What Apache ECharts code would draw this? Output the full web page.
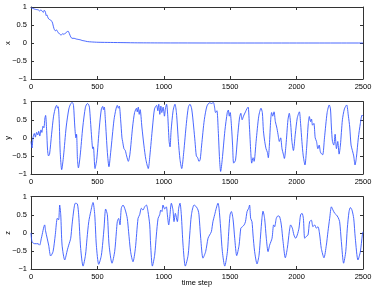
<!DOCTYPE html>
<html><head><meta charset="utf-8">
<script src="https://cdn.jsdelivr.net/npm/echarts@6/dist/echarts.min.js"></script>
<style>html,body{margin:0;padding:0;background:#fff}#c{width:374px;height:289px}</style>
</head><body><div id="c"></div>
<script>
const xTicks = [0, 500, 1000, 1500, 2000, 2500];
const yTicks = [-1, -0.5, 0, 0.5, 1];
const panelNames = ['x', 'y', 'z'];
const xAxisTitle = 'time step';

const seriesX = [[0,0.98],[15,0.96],[28,0.94],[40,0.93],[55,0.92],[65,0.89],[75,0.92],[85,0.88],[93,0.85],[100,0.91],[108,0.87],[115,0.76],[120,0.78],[126,0.72],[133,0.67],[145,0.64],[158,0.6],[166,0.5],[173,0.4],[183,0.34],[193,0.36],[203,0.3],[215,0.25],[228,0.22],[238,0.26],[248,0.24],[258,0.27],[271,0.31],[279,0.33],[289,0.26],[299,0.17],[309,0.13],[325,0.13],[341,0.11],[355,0.1],[370,0.09],[385,0.07],[400,0.06],[424,0.04],[454,0.03],[505,0.02],[600,0.015],[700,0.01],[800,0.005],[1000,0.002],[1500,0],[2000,0],[2500,0]];

const seriesY = [[0,-0.1],[8,-0.28],[15,0.0],[25,0.12],[33,0.02],[42,0.15],[50,0.08],[58,0.18],[66,0.05],[75,0.22],[82,0.15],[90,0.32],[97,0.28],[105,0.55],[110,0.62],[118,0.2],[125,-0.35],[132,-0.5],[140,-0.45],[155,0.1],[170,0.6],[185,0.85],[193,0.9],[200,0.82],[205,0.86],[212,0.5],[220,-0.4],[231,-0.88],[245,-0.5],[265,0.3],[285,0.8],[300,0.95],[311,0.98],[320,0.9],[330,0.3],[338,0.0],[343,0.1],[350,-0.6],[357,-0.83],[370,-0.5],[390,0.3],[410,0.85],[425,0.95],[432,0.93],[440,0.85],[455,0.1],[465,-0.3],[470,-0.25],[482,-0.85],[495,-0.6],[515,0.3],[530,0.8],[540,0.87],[545,0.78],[552,0.85],[560,0.5],[575,-0.4],[587,-0.8],[600,-0.4],[625,0.5],[640,0.8],[650,0.9],[658,0.82],[665,0.88],[675,0.5],[685,0.0],[690,-0.1],[700,-0.3],[710,-0.35],[720,-0.5],[733,-0.65],[745,-0.45],[765,0.3],[780,0.7],[795,0.82],[800,0.72],[808,0.85],[815,0.65],[822,0.78],[835,0.3],[850,-0.2],[865,-0.6],[883,-0.85],[895,-0.5],[915,0.3],[930,0.8],[946,0.9],[955,0.75],[962,0.93],[970,0.65],[978,0.88],[985,0.7],[995,0.85],[1005,0.6],[1012,0.8],[1021,0.93],[1030,0.6],[1040,-0.1],[1047,-0.25],[1055,0.2],[1070,0.75],[1084,0.93],[1095,0.7],[1110,-0.1],[1122,-0.6],[1135,-0.85],[1150,-0.4],[1170,0.4],[1185,0.85],[1197,0.93],[1210,0.8],[1225,0.3],[1235,-0.1],[1245,-0.5],[1255,-0.55],[1265,-0.65],[1274,-0.6],[1285,-0.2],[1305,0.5],[1325,0.88],[1345,0.97],[1360,0.95],[1373,0.98],[1380,0.9],[1390,0.7],[1400,0.75],[1410,0.2],[1420,-0.6],[1428,-0.93],[1440,-0.6],[1460,0.2],[1478,0.7],[1486,0.77],[1493,0.6],[1500,0.7],[1510,0.3],[1518,-0.2],[1526,-0.7],[1540,-0.62],[1555,0.0],[1570,0.55],[1580,0.68],[1590,0.5],[1600,0.6],[1615,0.72],[1625,0.8],[1635,0.85],[1645,0.3],[1655,-0.4],[1662,-0.7],[1672,-0.55],[1680,-0.65],[1695,-0.1],[1715,0.6],[1732,0.82],[1742,0.7],[1750,0.2],[1760,-0.1],[1770,-0.3],[1780,-0.4],[1787,-0.55],[1795,-0.2],[1805,0.5],[1812,0.7],[1820,0.6],[1830,0.72],[1840,0.45],[1850,0.3],[1860,0.1],[1870,-0.1],[1880,0.0],[1890,-0.3],[1900,-0.45],[1908,-0.57],[1920,-0.2],[1935,0.5],[1945,0.68],[1955,0.4],[1965,-0.1],[1976,-0.35],[1990,0.1],[2005,0.55],[2021,0.72],[2030,0.4],[2040,-0.1],[2050,-0.5],[2063,-0.75],[2075,-0.3],[2088,0.4],[2096,0.59],[2105,0.45],[2112,0.52],[2120,0.35],[2130,0.4],[2140,0.0],[2150,-0.1],[2160,-0.3],[2170,-0.2],[2180,-0.4],[2196,-0.47],[2210,0.0],[2230,0.7],[2246,0.91],[2255,0.8],[2262,0.3],[2270,-0.1],[2280,-0.2],[2290,0.1],[2300,-0.3],[2310,-0.1],[2320,-0.45],[2330,-0.2],[2345,0.5],[2360,0.8],[2377,0.91],[2390,0.6],[2400,0.3],[2410,-0.2],[2420,-0.35],[2430,-0.5],[2440,-0.75],[2450,-0.55],[2465,0.0],[2480,0.4],[2493,0.63],[2500,0.6]];

const seriesZ = [[0,0.0],[8,-0.25],[28,-0.3],[53,-0.3],[65,-0.34],[78,-0.15],[103,0.22],[110,0.05],[133,-0.34],[148,-0.64],[166,-0.52],[183,-0.05],[198,0.4],[208,0.36],[216,0.77],[224,0.5],[234,-0.34],[254,-0.75],[274,-0.47],[284,-0.34],[299,-0.15],[309,0.22],[324,0.68],[334,0.82],[349,0.8],[359,0.5],[374,-0.43],[392,-0.92],[410,-0.62],[422,-0.15],[435,0.31],[450,0.59],[467,0.84],[480,0.5],[492,-0.34],[510,-0.87],[530,-0.62],[550,0.13],[562,0.66],[575,0.5],[588,-0.34],[610,-0.84],[630,-0.52],[643,0.03],[650,0.31],[660,0.4],[670,0.22],[680,0.68],[693,0.77],[710,0.63],[725,0.4],[735,0.03],[750,-0.52],[768,-0.8],[786,-0.43],[806,0.4],[818,0.5],[831,0.68],[843,0.63],[856,0.72],[869,0.77],[881,0.59],[894,0.22],[901,-0.34],[914,-0.92],[931,-0.62],[944,-0.06],[957,0.4],[969,0.5],[977,0.63],[986,0.59],[994,0.77],[1007,0.66],[1019,0.72],[1027,0.5],[1037,0.22],[1044,0.4],[1057,0.82],[1069,0.63],[1077,0.31],[1087,0.54],[1102,0.31],[1112,0.68],[1122,0.82],[1132,0.5],[1145,-0.34],[1162,-0.92],[1183,-0.62],[1195,-0.06],[1208,0.5],[1228,0.77],[1245,0.72],[1258,0.63],[1265,0.5],[1278,-0.15],[1295,-0.7],[1315,-0.52],[1333,-0.15],[1345,-0.06],[1358,0.03],[1370,0.31],[1383,0.5],[1395,0.68],[1408,0.82],[1416,0.68],[1428,0.13],[1441,-0.52],[1459,-0.92],[1479,-0.52],[1489,0.03],[1499,0.5],[1509,0.59],[1522,0.36],[1534,-0.15],[1549,-0.63],[1567,-0.34],[1580,0.13],[1592,0.17],[1605,0.22],[1615,0.31],[1627,0.59],[1639,0.68],[1646,0.77],[1654,0.4],[1664,0.31],[1672,-0.06],[1684,-0.52],[1702,-0.86],[1717,-0.62],[1729,-0.06],[1739,0.4],[1747,0.6],[1759,0.4],[1772,-0.15],[1785,-0.52],[1797,-0.34],[1815,-0.15],[1827,0.22],[1835,0.17],[1847,0.4],[1860,0.47],[1872,0.45],[1885,0.22],[1898,-0.24],[1915,-0.69],[1930,-0.43],[1945,0.03],[1955,0.22],[1968,0.13],[1980,-0.06],[1993,-0.15],[2005,-0.06],[2018,0.13],[2030,0.5],[2041,0.54],[2051,0.4],[2061,-0.15],[2073,-0.1],[2086,-0.06],[2098,0.31],[2111,0.35],[2123,0.17],[2136,0.22],[2149,0.13],[2161,0.17],[2174,-0.06],[2186,-0.43],[2206,-0.69],[2224,-0.34],[2236,0.03],[2249,0.4],[2262,0.72],[2274,0.63],[2287,0.54],[2299,0.5],[2312,0.43],[2324,0.31],[2337,-0.24],[2354,-0.84],[2370,-0.52],[2382,0.13],[2395,0.59],[2405,0.7],[2417,0.63],[2430,0.4],[2442,-0.15],[2462,-0.75],[2480,-0.52],[2495,-0.06],[2500,0.03]];

const panelData = [seriesX, seriesY, seriesZ];
const FONT = 'Liberation Sans, Arial, sans-serif';
const lineColor = '#3557ff';
const axisColor = '#333';
const minus = v => String(v).replace('-', '\u2212');

const grids = [
  {left: 31, right: 11, top: 7, height: 72, outerBoundsMode: 'none', containLabel: false},
  {left: 31, right: 11, top: 101.7, height: 72.3, outerBoundsMode: 'none', containLabel: false},
  {left: 31, right: 11, top: 196.7, height: 72.3, outerBoundsMode: 'none', containLabel: false}
];

const xAxes = [], yAxes = [], series = [];
panelNames.forEach((nm, i) => {
  const xBase = {
    type: 'value', gridIndex: i, min: xTicks[0], max: xTicks[xTicks.length - 1],
    interval: xTicks[1] - xTicks[0],
    axisLine: {show: true, onZero: false, lineStyle: {color: axisColor, width: 1}},
    axisTick: {show: true, inside: true, length: 3, lineStyle: {color: axisColor}},
    splitLine: {show: false}
  };
  xAxes.push(Object.assign({}, xBase, {
    position: 'bottom',
    axisLabel: {show: true, margin: 4, fontSize: 7.5, color: '#000', fontFamily: FONT, formatter: minus},
    name: i === 2 ? xAxisTitle : '', nameLocation: 'middle', nameGap: 10, nameMoveOverlap: false,
    nameTextStyle: {fontSize: 7.5, color: '#000', fontFamily: FONT, verticalAlign: 'top'}
  }));
  xAxes.push(Object.assign({}, xBase, {position: 'top', axisLabel: {show: false}}));
  const yBase = {
    type: 'value', gridIndex: i, min: yTicks[0], max: yTicks[yTicks.length - 1],
    interval: yTicks[1] - yTicks[0],
    axisLine: {show: true, onZero: false, lineStyle: {color: axisColor, width: 1}},
    axisTick: {show: true, inside: true, length: 3, lineStyle: {color: axisColor}},
    splitLine: {show: false}
  };
  yAxes.push(Object.assign({}, yBase, {
    position: 'left',
    axisLabel: {show: true, margin: 4, fontSize: 7.5, color: '#000', fontFamily: FONT, formatter: minus},
    name: nm, nameLocation: 'middle', nameGap: 19, nameRotate: 90, nameMoveOverlap: false,
    nameTextStyle: {fontSize: 7.5, color: '#000', fontFamily: FONT}
  }));
  yAxes.push(Object.assign({}, yBase, {position: 'right', axisLabel: {show: false}}));
  series.push({
    type: 'line', xAxisIndex: 2 * i, yAxisIndex: 2 * i, data: panelData[i],
    showSymbol: false, smooth: 0.25, animation: false,
    lineStyle: {color: lineColor, width: 0.9}
  });
});

const chart = echarts.init(document.getElementById('c'), null, {renderer: 'canvas'});
chart.setOption({
  animation: false,
  backgroundColor: '#fff',
  grid: grids,
  xAxis: xAxes,
  yAxis: yAxes,
  series: series
});
</script></body></html>
